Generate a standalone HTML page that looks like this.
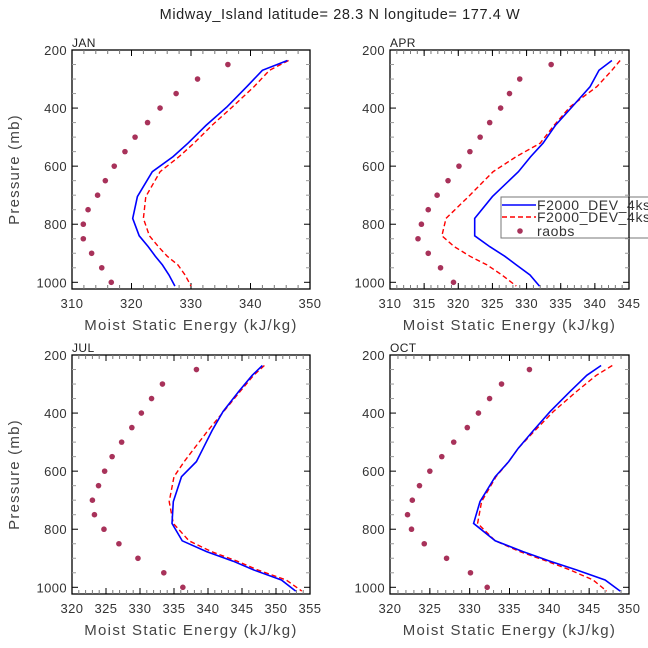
<!DOCTYPE html>
<html><head><meta charset="utf-8"><style>
body{margin:0;background:#fff;}
svg{display:block;font-family:"Liberation Sans",sans-serif;}
</style></head><body>
<svg id="chart" width="648" height="648" viewBox="0 0 648 648">
<text x="340" y="19" font-size="14.5" letter-spacing="0.6" text-anchor="middle" fill="#222">Midway_Island  latitude= 28.3 N longitude= 177.4 W</text>
</svg>
<script>
const levels = [236,270,326,395,460,521,567,619,705,780,840,877,910,940,975,1013];
const obsLevels = [250,300,350,400,450,500,550,600,650,700,750,800,850,900,950,1000];
const janBlue = [346.2,342.0,339.4,336.1,332.5,329.5,327.0,323.5,321.0,320.2,321.3,322.8,324.0,325.2,326.3,327.3];
const janRed  = [346.4,343.2,340.6,337.0,333.5,330.5,328.0,324.8,322.4,322.0,323.0,324.5,326.0,327.8,329.0,330.0];
const janObs  = [336.2,331.1,327.5,324.8,322.7,320.6,318.9,317.1,315.6,314.3,312.7,311.9,311.9,313.3,315.0,316.6];
const aprBlue = [342.5,340.6,339.3,336.7,334.2,332.4,330.6,328.8,325.0,322.4,322.4,324.6,326.8,328.5,330.5,331.9];
const aprRed  = [343.7,342.5,340.3,336.4,334.0,332.0,328.5,325.1,321.5,318.2,317.6,319.4,321.7,324.2,326.4,328.5];
const aprObs  = [333.6,329.0,327.5,326.2,324.6,323.2,321.7,320.1,318.5,316.9,315.6,314.6,314.1,315.6,317.4,319.3];
const julBlue = [348.0,346.5,344.5,342.2,340.6,339.3,338.3,336.1,334.9,334.7,336.2,339.8,343.7,346.7,350.8,352.9];
const julRed  = [348.3,346.7,344.7,342.3,340.0,338.0,336.5,335.0,334.3,334.9,337.2,340.5,344.3,347.3,351.5,353.8];
const julObs  = [338.3,333.3,331.7,330.2,328.8,327.3,325.9,324.8,323.9,323.0,323.3,324.7,326.9,329.7,333.5,336.3];
const octBlue = [346.5,344.7,342.6,340.1,338.0,336.1,334.9,333.2,331.3,330.5,333.2,336.7,340.1,343.4,347.0,348.9];
const octRed  = [347.9,345.9,343.4,340.5,338.2,336.1,334.9,333.3,331.5,331.0,333.2,336.3,339.7,342.6,345.5,347.2];
const octObs  = [337.5,334.0,332.5,331.1,329.7,328.0,326.5,325.0,323.7,322.8,322.2,322.7,324.3,327.1,330.1,332.2];
const yTicks = [200,400,600,800,1000];
const janX = [310,320,330,340,350];
const aprX = [310,315,320,325,330,335,340,345];
const julX = [320,325,330,335,340,345,350,355];
const octX = [320,325,330,335,340,345,350];

const NS='http://www.w3.org/2000/svg';
const svg=document.getElementById('chart');
function mk(tag,attrs,parent){const e=document.createElementNS(NS,tag);for(const k in attrs)e.setAttribute(k,attrs[k]);(parent||svg).appendChild(e);return e;}

function panel(name,x0,x1,top,xmin,xmax,xticks,minorStep,blue,red,obs,showY){
  const g=mk('g',{});
  
  
  const bot=top+239;
  const sx=v=>x0+(v-xmin)/(xmax-xmin)*(x1-x0);
  const sy=p=>top+(p-200)/800*232.3;
  mk('rect',{x:x0,y:top,width:x1-x0,height:bot-top,fill:'none',stroke:'#000','stroke-width':1.3},g);
  for(let p=250;p<=1000;p+=50){
    const major=p%200===0;const L=major?6:4;const c=major?'#000':'#999';
    mk('line',{x1:x0,x2:x0+L,y1:sy(p),y2:sy(p),stroke:c},g);
    mk('line',{x1:x1,x2:x1-L,y1:sy(p),y2:sy(p),stroke:c},g);
  }
  yTicks.forEach(p=>{
    const t=mk('text',{x:x0-5,y:sy(p)+5,'font-size':13,'letter-spacing':0.4,'text-anchor':'end',fill:'#333'},g);
    
    
    t.textContent=p;
  });
  for(let v=xmin+minorStep;v<xmax-0.01;v+=minorStep){
    mk('line',{x1:sx(v),x2:sx(v),y1:bot,y2:bot-4,stroke:'#777'},g);
    mk('line',{x1:sx(v),x2:sx(v),y1:top,y2:top+4,stroke:'#777'},g);
  }
  xticks.forEach(v=>{
    mk('line',{x1:sx(v),x2:sx(v),y1:bot,y2:bot-6,stroke:'#000'},g);
    mk('line',{x1:sx(v),x2:sx(v),y1:top,y2:top+6,stroke:'#000'},g);
    const t=mk('text',{x:sx(v),y:bot+19,'font-size':13,'letter-spacing':0.4,'text-anchor':'middle',fill:'#333'},g);
    
    
    t.textContent=v;
  });
  const lab=mk('text',{x:x0,y:top-3,'font-size':12,'letter-spacing':0.4,fill:'#222'},g);
  
  
  lab.textContent=name.toUpperCase();
  const xl=mk('text',{x:(x0+x1)/2,y:bot+41,'font-size':15,'letter-spacing':1.3,'text-anchor':'middle',fill:'#444'},g);
  
  
  xl.textContent='Moist Static Energy (kJ/kg)';
  if(showY){
    const yl=mk('text',{x:0,y:0,'font-size':15,'letter-spacing':1.2,'text-anchor':'middle',fill:'#444',transform:`translate(19,${(top+bot)/2}) rotate(-90)`},g);
    
    
    yl.textContent='Pressure (mb)';
  }
  const pts=arr=>arr.map((v,i)=>sx(v).toFixed(1)+','+sy(levels[i]).toFixed(1)).join(' ');
  const r=mk('polyline',{points:pts(red),fill:'none',stroke:'#f00','stroke-width':1.4,'stroke-dasharray':'5,3'},g);
  
  
  const b=mk('polyline',{points:pts(blue),fill:'none',stroke:'#00f','stroke-width':1.6},g);
  
  
  obs.forEach((v,i)=>{
    const c=mk('circle',{cx:sx(v),cy:sy(obsLevels[i]),r:2.8,fill:'#a8325a'},g);
    
    
  });
}
panel('jan',72,310,50,310,350,janX,2,janBlue,janRed,janObs,true);
panel('apr',390,629,50,310,345,aprX,1,aprBlue,aprRed,aprObs,false);
panel('jul',72,310,355,320,355,julX,1,julBlue,julRed,julObs,true);
panel('oct',390,629,355,320,350,octX,1,octBlue,octRed,octObs,false);

const lg=mk('g',{});


mk('rect',{x:501,y:197,width:160,height:41,fill:'#fff',stroke:'#777'},lg);
mk('line',{x1:629,x2:629,y1:197,y2:238,stroke:'#000','stroke-width':1.3},lg);
mk('line',{x1:502,x2:536,y1:205,y2:205,stroke:'#00f','stroke-width':1.6},lg);
const t1=mk('text',{x:537,y:210,'font-size':14,'letter-spacing':0.6,fill:'#333'},lg);


t1.textContent='F2000_DEV_4kss';
mk('line',{x1:502,x2:536,y1:217,y2:217,stroke:'#f00','stroke-width':1.4,'stroke-dasharray':'5,3'},lg);
const t2=mk('text',{x:537,y:222,'font-size':14,'letter-spacing':0.6,fill:'#333'},lg);


t2.textContent='F2000_DEV_4kss';
mk('circle',{cx:520,cy:231,r:2.8,fill:'#a8325a'},lg);
const t3=mk('text',{x:537,y:236,'font-size':14,'letter-spacing':0.6,fill:'#333'},lg);


t3.textContent='raobs';
</script>
</body></html>
